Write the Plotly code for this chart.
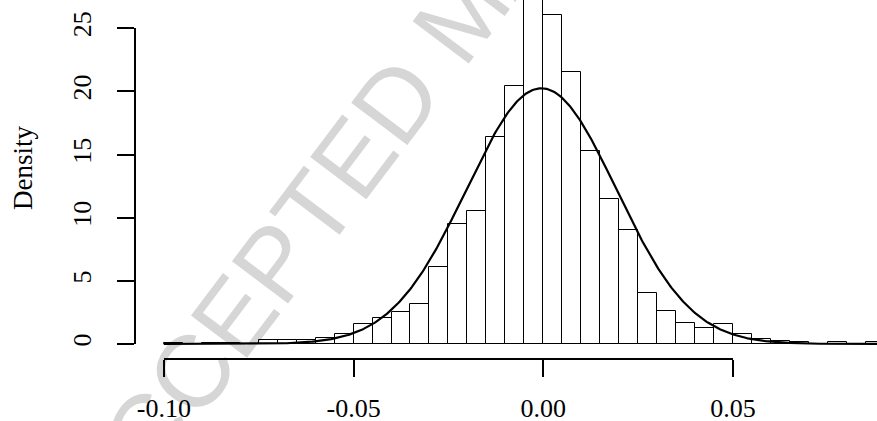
import numpy as np
import plotly.graph_objects as go

# ---- data ----
bin_left = [-0.100, -0.095, -0.090, -0.085, -0.080, -0.075, -0.070, -0.065, -0.060, -0.055,
            -0.050, -0.045, -0.040, -0.035, -0.030, -0.025, -0.020, -0.015, -0.010, -0.005,
            0.000, 0.005, 0.010, 0.015, 0.020, 0.025, 0.030, 0.035, 0.040, 0.045,
            0.050, 0.055, 0.060, 0.065, 0.070, 0.075, 0.080, 0.085]
density = [0.08, 0.0, 0.08, 0.08, 0.0, 0.32, 0.32, 0.32, 0.45, 0.79,
           1.56, 2.03, 2.51, 3.14, 6.12, 9.50, 10.50, 16.40, 20.40, 28.0,
           26.02, 21.5, 15.3, 11.45, 9.05, 4.06, 2.61, 1.64, 1.30, 1.55,
           0.80, 0.41, 0.20, 0.18, 0.0, 0.18, 0.0, 0.18]
bin_width = 0.005

# fitted normal density drawn over the histogram (mean / sd)
fit_mean = -0.0005
fit_sd = 0.0197
curve_from, curve_to = -0.100, 0.090

x_tick_vals = [-0.10, -0.05, 0.00, 0.05]
x_tick_text = ["-0.10", "-0.05", "0.00", "0.05"]
y_tick_vals = [0, 5, 10, 15, 20, 25]
y_tick_text = ["0", "5", "10", "15", "20", "25"]
y_label = "Density"
watermark = "ACCEPTED MANUSCRIPT"

# ---- geometry ----
W, H = 877, 421
L, R, T, B = 135, 0, 0, 62
plot_w = W - L - R
plot_h = H - T - B
x_zero_px, x_per_unit = 543.3, 3795.0
y_zero_px, y_per_unit = 344.0, 12.63

def x_at(px):
    return (px - x_zero_px) / x_per_unit

def y_at(py):
    return (y_zero_px - py) / y_per_unit

x_range = [x_at(L), x_at(W - R)]
y_range = [y_at(H - B), y_at(T)]

def xfrac(v):
    return ((x_zero_px + v * x_per_unit) - L) / plot_w

def yfrac(v):
    return ((H - B) - (y_zero_px - v * y_per_unit)) / plot_h

serif = "Liberation Serif, Times New Roman, serif"

xc = np.linspace(curve_from, curve_to, 600)
yc = np.exp(-0.5 * ((xc - fit_mean) / fit_sd) ** 2) / (fit_sd * np.sqrt(2 * np.pi))

fig = go.Figure()
fig.add_trace(go.Bar(
    x=bin_left, y=density, width=bin_width, offset=0,
    marker=dict(color="rgba(0,0,0,0)", line=dict(color="black", width=1)),
    showlegend=False, hoverinfo="skip"))
fig.add_trace(go.Scatter(
    x=xc, y=yc, mode="lines", line=dict(color="black", width=2.2),
    showlegend=False, hoverinfo="skip"))
fig.add_trace(go.Scatter(x=[None], y=[None], xaxis="x2", yaxis="y2",
                         showlegend=False, hoverinfo="skip"))

wm_cx, wm_cy = 455, 7  # watermark centre, pixels

fig.update_layout(
    template="none",
    width=W, height=H,
    margin=dict(l=L, r=R, t=T, b=B, pad=0, autoexpand=False),
    paper_bgcolor="white", plot_bgcolor="rgba(0,0,0,0)",
    bargap=0,
    xaxis=dict(range=x_range, visible=False, showgrid=False, zeroline=False,
               automargin=False),
    yaxis=dict(range=y_range, visible=False, showgrid=False, zeroline=False,
               automargin=False),
    xaxis2=dict(domain=[xfrac(-0.10), xfrac(0.05)], range=[-0.10, 0.05],
                anchor="free", position=0, showline=True, linecolor="black", linewidth=2,
                ticks="outside", ticklen=17, tickwidth=2, tickcolor="black",
                tickvals=x_tick_vals, ticktext=x_tick_text, ticklabelstandoff=9,
                tickfont=dict(family=serif, size=26, color="black"),
                showgrid=False, zeroline=False, automargin=False),
    yaxis2=dict(domain=[yfrac(0), yfrac(25)], range=[0, 25],
                anchor="free", position=0, side="left", showline=True, linecolor="black",
                linewidth=2, ticks="outside", ticklen=17, tickwidth=2, tickcolor="black",
                tickvals=y_tick_vals, ticktext=y_tick_text, tickangle=-90,
                ticklabelstandoff=16,
                tickfont=dict(family=serif, size=26, color="black"),
                showgrid=False, zeroline=False, automargin=False),
    annotations=[dict(text=y_label, xref="paper", yref="paper",
                      x=(23 - L) / plot_w, y=((H - B) - 168) / plot_h,
                      xanchor="center", yanchor="middle", textangle=-90, showarrow=False,
                      font=dict(family=serif, size=27, color="black"))],
    shapes=[dict(type="rect", xref="paper", yref="paper",
                 x0=(wm_cx - L) / plot_w - 0.002, x1=(wm_cx - L) / plot_w + 0.002,
                 y0=((H - B) - wm_cy) / plot_h - 0.002, y1=((H - B) - wm_cy) / plot_h + 0.002,
                 line=dict(width=0), fillcolor="rgba(0,0,0,0)", layer="below",
                 label=dict(text=watermark, textangle=-53,
                            textposition="middle center",
                            font=dict(family="Liberation Sans, Arial, sans-serif", size=102,
                                      color="#d6d6d6")))],
)

fig.write_html("out.html", config={"displayModeBar": False},
               post_script="document.body.style.margin='0';document.body.style.overflow='hidden';")
